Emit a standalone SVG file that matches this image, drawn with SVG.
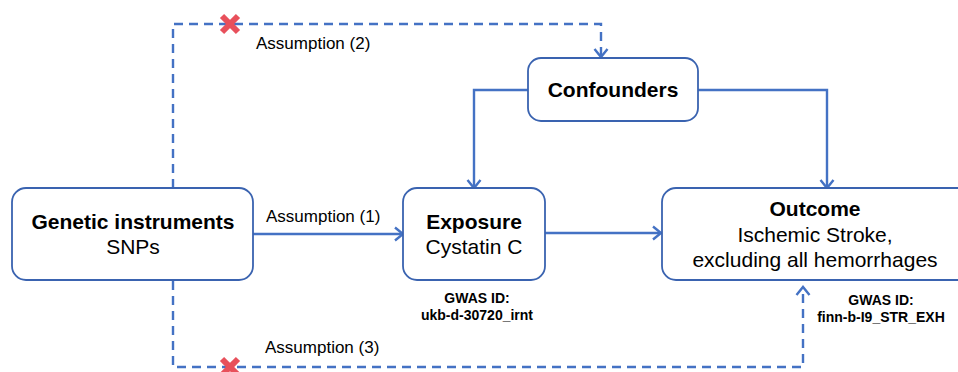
<svg xmlns="http://www.w3.org/2000/svg" width="958" height="372" viewBox="0 0 958 372">
  <style>
    .box { fill: #ffffff; stroke: #3a63b0; stroke-width: 1.8; }
    .ln { fill: none; stroke: #4472c4; stroke-width: 2.4; }
    .dash { fill: none; stroke: #4472c4; stroke-width: 2.4; stroke-dasharray: 9 6; }
    text { font-family: "Liberation Sans", Arial, sans-serif; fill: #000; }
    .title { font-size: 21px; font-weight: bold; text-anchor: middle; }
    .sub { font-size: 21px; text-anchor: middle; }
    .lbl { font-size: 17px; }
    .id { font-size: 14px; font-weight: bold; text-anchor: middle; }
    .cross { stroke: #e8505b; stroke-width: 6; stroke-linecap: butt; }
  </style>
  <defs>
    <marker id="arr" markerWidth="16" markerHeight="16" refX="11" refY="8" orient="auto" markerUnits="userSpaceOnUse">
      <path d="M3,1.5 L11,8 L3,14.5" fill="none" stroke="#4472c4" stroke-width="2.4"/>
    </marker>
  </defs>
  <rect width="958" height="372" fill="#ffffff"/>

  <g id="connectors">
    <!-- solid causal paths -->
    <line class="ln" x1="253" y1="234" x2="403" y2="234" marker-end="url(#arr)"/>
    <line class="ln" x1="545" y1="233" x2="661" y2="233" marker-end="url(#arr)"/>
    <path class="ln" d="M528,90 H474 V188" marker-end="url(#arr)"/>
    <path class="ln" d="M698,90 H827 V188" marker-end="url(#arr)"/>
    <!-- violated assumption paths -->
    <path class="dash" d="M173,188 V24 H601 V57" marker-end="url(#arr)"/>
    <path class="dash" d="M173,281 V367 H803 V287" marker-end="url(#arr)"/>
    <g id="cross-top">
      <line class="cross" x1="222" y1="16" x2="238" y2="32"/>
      <line class="cross" x1="238" y1="16" x2="222" y2="32"/>
    </g>
    <g id="cross-bottom">
      <line class="cross" x1="222" y1="359" x2="238" y2="375"/>
      <line class="cross" x1="238" y1="359" x2="222" y2="375"/>
    </g>
    <text class="lbl" x="266" y="222">Assumption (1)</text>
    <text class="lbl" x="256" y="49">Assumption (2)</text>
    <text class="lbl" x="265" y="353">Assumption (3)</text>
  </g>

  <g id="genetic">
    <rect class="box" x="12" y="188" width="241" height="92" rx="14"/>
    <text class="title" x="133" y="229">Genetic instruments</text>
    <text class="sub" x="133" y="254">SNPs</text>
  </g>

  <g id="exposure">
    <rect class="box" x="403" y="188" width="142" height="92" rx="14"/>
    <text class="title" x="474" y="229">Exposure</text>
    <text class="sub" x="474" y="254">Cystatin C</text>
    <text class="id" x="477" y="303">GWAS ID:</text>
    <text class="id" x="477" y="320">ukb-d-30720_irnt</text>
  </g>

  <g id="confounders">
    <rect class="box" x="528" y="58" width="170" height="63" rx="13"/>
    <text class="title" x="613" y="97">Confounders</text>
  </g>

  <g id="outcome">
    <rect class="box" x="662" y="188" width="310" height="92" rx="14"/>
    <text class="title" x="815" y="216">Outcome</text>
    <text class="sub" x="815" y="242">Ischemic Stroke,</text>
    <text class="sub" x="815" y="267">excluding all hemorrhages</text>
    <text class="id" x="881" y="305">GWAS ID:</text>
    <text class="id" x="881" y="322">finn-b-I9_STR_EXH</text>
  </g>
</svg>
